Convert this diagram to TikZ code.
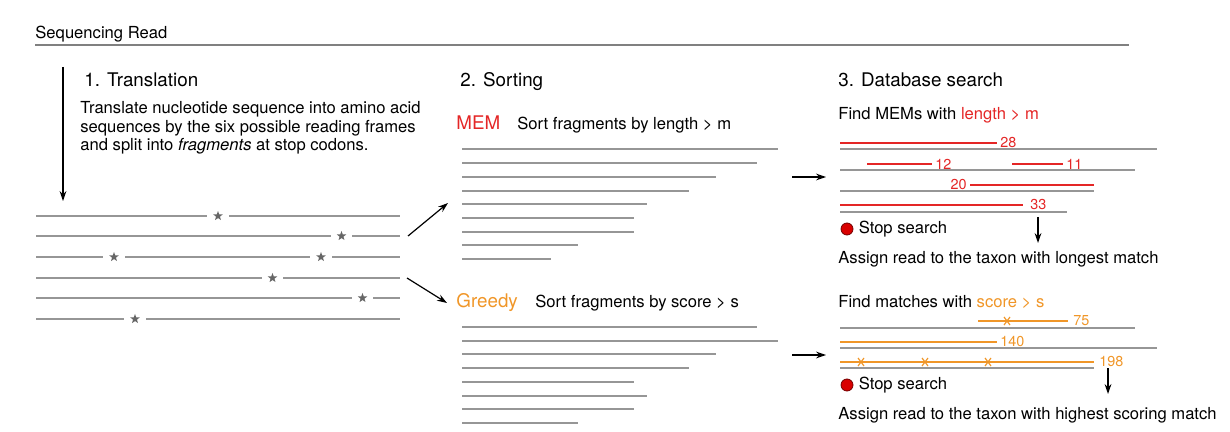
\documentclass[tikz,border=0pt]{standalone}
\usepackage{fontspec}
\setmainfont{TeX Gyre Heros}
\usetikzlibrary{arrows.meta, positioning, shapes.geometric, shapes.misc}

\definecolor{memred}{RGB}{228,38,38}
\definecolor{greedyorange}{RGB}{240,150,40}
\definecolor{fraggray}{RGB}{150,150,150}

\begin{document}
\begin{tikzpicture}[
    x=0.5pt, y=-0.5pt,
    >=Stealth,
    font=\fontsize{8.3}{9.3}\selectfont,
    every node/.style = {inner sep=0pt},
    txt/.style = {anchor=base west},
    steptitle/.style = {txt, font=\fontsize{9.4}{11}\selectfont},
    methodname/.style = {txt, font=\fontsize{9.4}{11}\selectfont},
    frag/.style = {fraggray, line width=1pt},
    hitmem/.style = {memred, line width=1.3pt},
    hitgreedy/.style = {greedyorange, line width=1.3pt},
    numlabel/.style = {font=\fontsize{7.2}{8}\selectfont, inner sep=1pt},
    stopcodon/.style = {star, star points=5, star point ratio=2.4, fill=gray!80!black, minimum size=5pt},
    mismatch/.style = {cross out, draw=greedyorange, line width=0.6pt, minimum width=2.4pt, minimum height=3.4pt},
    stopdot/.style = {circle, fill=red!85!black, draw=red!45!black, line width=0.4pt, minimum size=6pt},
    flow/.style = {->, line width=0.6pt, -{Stealth[length=5pt,width=3.4pt]}},
]

\useasboundingbox (0,0) rectangle (1230,432);

% Sequencing read
\node[txt] (read) at (35,38.5) {Sequencing Read};
\draw[fraggray!85!black, line width=0.8pt] (35,45) -- (1129,45);

% 1. Translation
\coordinate (trans top) at (63,67);
\coordinate (trans bottom) at (63,201);
\draw[flow] (trans top) -- (trans bottom);
\node[steptitle] (translation) at (84,87) {1. Translation};
% (base of a multi-line node is its last line)
\node[txt, align=left] (translation text) at (80,151)
    {Translate nucleotide sequence into amino acid\\
     sequences by the six possible reading frames\\
     and split into \textit{fragments} at stop codons.};

% six reading frames with stop codons
\foreach \y/\segs in {216/{36/207,229/400}, 236/{36/331,352/400},
                      257/{36/103,125/310,332/400}, 278/{36/262,283/400},
                      298/{36/352,373/400}, 319/{36/124,146/400}}
    \foreach \a/\b in \segs
        \draw[frag] (\a,\y) -- (\b,\y);
\foreach \x/\y [count=\i] in {218/216, 341.5/236, 114/257, 321/257,
                              272.5/278, 362.5/298, 135/319}
    \node[stopcodon] (stop\i) at (\x,\y) {};

% arrows to sorting
\coordinate (split up) at (408,236);
\coordinate (split down) at (407,278);
\coordinate (mem in) at (448,203);
\coordinate (greedy in) at (447,303);
\draw[flow] (split up) -- (mem in);
\draw[flow] (split down) -- (greedy in);

% 2. Sorting
\node[steptitle] (sorting) at (460,87) {2. Sorting};
\node[methodname, text=memred] (mem) at (456,130) {MEM};
\node[txt] (mem sort) at (517,130) {Sort fragments by length > m};
\foreach \y/\e in {149/778, 163/757, 177/716, 191/689, 204/647,
                   218/634, 232/634, 245/578, 259/551}
    \draw[frag] (462,\y) -- (\e,\y);

\node[methodname, text=greedyorange] (greedy) at (456,307) {Greedy};
\node[txt] (greedy sort) at (535,307) {Sort fragments by score > s};
\foreach \y/\e in {327/757, 341/778, 354/716, 368/689,
                   382/634, 396/647, 409/634, 423/578}
    \draw[frag] (462,\y) -- (\e,\y);

% arrows to database search
\coordinate (mem out) at (792,177);
\coordinate (mem db) at (826,177);
\coordinate (greedy out) at (792,355);
\coordinate (greedy db) at (826,355);
\draw[flow] (mem out) -- (mem db);
\draw[flow] (greedy out) -- (greedy db);

% 3. Database search
\node[steptitle] (search) at (838,87) {3. Database search};

% MEM search
\node[txt] (find mem) at (838,119.5) {Find MEMs with \textcolor{memred}{length > m}};
\foreach \y/\e in {149/1157, 170/1135, 191/1094, 212/1067}
    \draw[frag] (840,\y) -- (\e,\y);
\draw[hitmem] (840,143) -- (997,143) node[numlabel, anchor=west, text=memred] (m28) {28};
\draw[hitmem] (867,164) -- (932,164) node[numlabel, anchor=west, text=memred] (m12) {12};
\draw[hitmem] (1012,164) -- (1063,164) node[numlabel, anchor=west, text=memred] (m11) {11};
\draw[hitmem] (1094,185) -- (970,185) node[numlabel, anchor=east, text=memred] (m20) {20};
\draw[hitmem] (840,205) -- (1023,205) node[numlabel, anchor=west, text=memred, xshift=2pt] (m33) {33};

\node[stopdot] (mem stop) at (847,229) {};
\node[txt, right=2.5pt of mem stop, anchor=west] (mem stop text) {Stop search};
\coordinate (mem down top) at (1038,217);
\coordinate (mem down) at (1038,243);
\draw[flow] (mem down top) -- (mem down);
\node[txt] (mem assign) at (838,264) {Assign read to the taxon with longest match};

% Greedy search
\node[txt] (find greedy) at (838,307) {Find matches with \textcolor{greedyorange}{score > s}};
\foreach \y/\e in {328/1135, 348/1157, 368/1094}
    \draw[frag] (840,\y) -- (\e,\y);
\draw[hitgreedy] (978,321) -- (1068,321) node[numlabel, anchor=west, text=greedyorange, xshift=1pt] (g75) {75};
\draw[hitgreedy] (840,342) -- (997,342) node[numlabel, anchor=west, text=greedyorange] (g140) {140};
\draw[hitgreedy] (840,362) -- (1094,362) node[numlabel, anchor=west, text=greedyorange, xshift=1pt] (g198) {198};
\foreach \x/\y [count=\i] in {1007/321, 861/362, 925/362, 988/362}
    \node[mismatch] (miss\i) at (\x,\y) {};

\node[stopdot] (greedy stop) at (847,385) {};
\node[txt, right=2.5pt of greedy stop, anchor=west] (greedy stop text) {Stop search};
\coordinate (greedy down top) at (1108,368);
\coordinate (greedy down) at (1108,394);
\draw[flow] (greedy down top) -- (greedy down);
\node[txt] (greedy assign) at (838,419) {Assign read to the taxon with highest scoring match};

\end{tikzpicture}
\end{document}
